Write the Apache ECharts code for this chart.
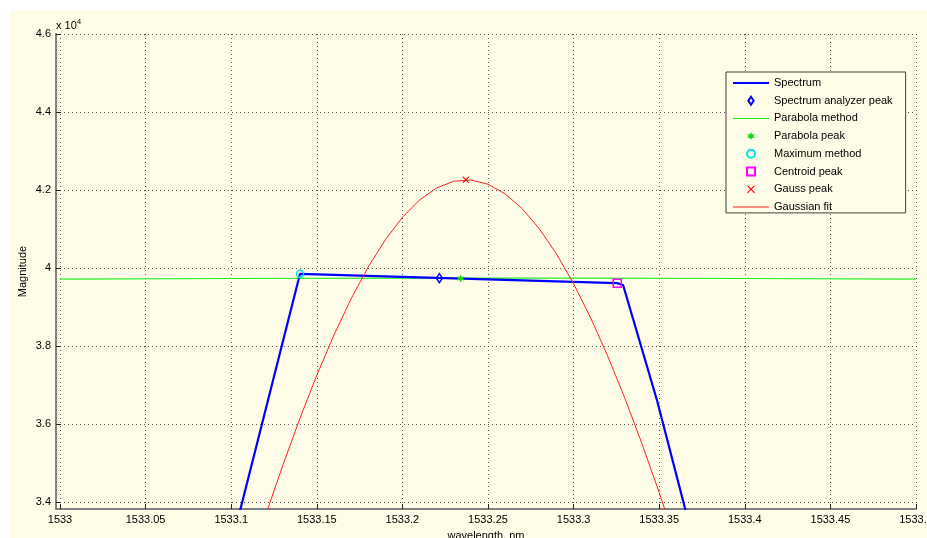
<!DOCTYPE html>
<html>
<head>
<meta charset="utf-8">
<script src="https://cdn.jsdelivr.net/npm/echarts@6/dist/echarts.min.js"></script>
<style>
  html, body { margin: 0; background: #ffffff; }
  #chart { position: absolute; left: 10px; top: 10px; width: 917px; height: 528px; }
</style>
</head>
<body>
<div id="chart"></div>
<script>
// magnitude values are in units of 10^4 (as on the axis)
const spectrumX = [1533.09, 1533.1402, 1533.18, 1533.22, 1533.26, 1533.30, 1533.3255, 1533.3289, 1533.3487, 1533.375]
const spectrumY = [3.116, 3.9854, 3.9803, 3.9751, 3.9700, 3.9648, 3.9615, 3.9568, 3.6615, 3.217]

const parabolaX = [1533, 1533.1, 1533.2, 1533.25, 1533.3, 1533.4, 1533.5]
const parabolaY = [3.9718, 3.9735, 3.9743, 3.9744, 3.9743, 3.9735, 3.9718]

const gaussX = [1533.10, 1533.11, 1533.12, 1533.13, 1533.14, 1533.15, 1533.16, 1533.17, 1533.18, 1533.19,
  1533.20, 1533.21, 1533.22, 1533.23, 1533.24, 1533.25, 1533.26, 1533.27, 1533.28, 1533.29,
  1533.30, 1533.31, 1533.32, 1533.33, 1533.34, 1533.35, 1533.36, 1533.37]
const gaussY = [3.0935, 3.2321, 3.3656, 3.4930, 3.6133, 3.7255, 3.8284, 3.9211, 4.0028, 4.0727,
  4.1302, 4.1746, 4.2055, 4.2227, 4.2259, 4.2151, 4.1905, 4.1523, 4.1007, 4.0365,
  3.9601, 3.8723, 3.7740, 3.6660, 3.5493, 3.4249, 3.2940, 3.1578]

const analyzerPeak = [1533.2216, 3.9744]
const parabolaPeak = [1533.234, 3.9735]
const maximumPoint = [1533.1402, 3.9854]
const centroidPeak = [1533.3255, 3.9615]
const gaussPeak = [1533.2371, 4.2264]

const xTickMin = 1532.99766, xTickMax = 1533.5
const yTickMin = 3.3828, yTickMax = 4.6

const BG = '#fffde8'
const FONT = 'Liberation Sans, Arial, sans-serif'
const zip = (xs, ys) => xs.map((x, i) => [x, ys[i]])
const fmt = v => String(Number(v.toFixed(4)))

const starPath = 'path://M5,0L6.5,3L10,2.5L8,5L10,7.5L6.5,7L5,10L3.5,7L0,7.5L2,5L0,2.5L3.5,3Z'
const crossPath = 'path://M1,0L5,4L9,0L10,1L6,5L10,9L9,10L5,6L1,10L0,9L4,5L0,1Z'
const diamondPath = 'path://M3,0L6,4.5L3,9L0,4.5Z'
const squarePath = 'path://M0,0L10,0L10,10L0,10Z'
const thickLine = 'path://M0,0L36,0L36,2L0,2Z'
const thinLine = 'path://M0,0L36,0L36,1L0,1Z'

const chart = echarts.init(document.getElementById('chart'))

const grid = { color: '#555', type: [1, 3], width: 1 }

chart.setOption({
  backgroundColor: BG,
  animation: false,
  textStyle: { fontFamily: FONT },
  grid: { left: 46, right: 11, top: 24, bottom: 29, outerBoundsMode: 'none', containLabel: false },
  xAxis: {
    type: 'value',
    min: xTickMin, max: xTickMax, splitNumber: 10,
    name: 'wavelength, nm', nameLocation: 'middle', nameGap: 21, nameMoveOverlap: false,
    nameTextStyle: { color: '#000', fontSize: 11, fontFamily: FONT },
    axisLine: { onZero: false, lineStyle: { color: '#808080', width: 2 } },
    axisTick: { inside: true, length: 5, lineStyle: { color: '#222' } },
    axisLabel: { color: '#000', fontSize: 11, margin: 5, showMinLabel: false, showMaxLabel: true, fontFamily: FONT, formatter: fmt },
    splitLine: { show: true, lineStyle: grid },
  },
  yAxis: {
    type: 'value',
    min: yTickMin, max: yTickMax, splitNumber: 6,
    name: 'Magnitude', nameLocation: 'middle', nameGap: 28, nameMoveOverlap: false,
    nameTextStyle: { color: '#000', fontSize: 11, fontFamily: FONT },
    axisLine: { onZero: false, lineStyle: { color: '#808080', width: 2 } },
    axisTick: { inside: true, length: 5, lineStyle: { color: '#222' } },
    axisLabel: { color: '#000', fontSize: 11, margin: 5, showMinLabel: false, fontFamily: FONT, formatter: fmt },
    splitLine: { show: true, lineStyle: grid },
  },
  legend: {
    orient: 'vertical',
    left: 716, top: 62,
    padding: [5, 13, 0, 7],
    itemWidth: 36, itemHeight: 8, itemGap: 5.7,
    backgroundColor: BG,
    borderColor: '#404040', borderWidth: 1,
    textStyle: { color: '#000', fontSize: 11, lineHeight: 12, fontFamily: FONT },
    data: [
      { name: 'Spectrum', icon: thickLine },
      { name: 'Spectrum analyzer peak', icon: diamondPath },
      { name: 'Parabola method', icon: thinLine },
      { name: 'Parabola peak', icon: starPath },
      { name: 'Maximum method', icon: 'circle' },
      { name: 'Centroid peak', icon: squarePath },
      { name: 'Gauss peak', icon: crossPath },
      { name: 'Gaussian fit', icon: thinLine },
    ],
  },
  graphic: [{
    type: 'text', left: 46, top: 8,
    style: {
      text: 'x 10{s|4}', fill: '#000', font: '11px ' + FONT,
      rich: { s: { fontSize: 8, verticalAlign: 'top', padding: [0, 0, 7, 0] } },
    },
  }],
  series: [
    {
      name: 'Spectrum', type: 'line', data: zip(spectrumX, spectrumY), symbol: 'none', symbolKeepAspect: true,
      lineStyle: { color: '#0000ff', width: 2.2 }, itemStyle: { color: '#0000ff' }, z: 3,
    },
    {
      name: 'Spectrum analyzer peak', type: 'scatter', data: [analyzerPeak], symbol: 'diamond', symbolSize: [6, 9], symbolKeepAspect: true,
      itemStyle: { color: 'rgba(0,0,0,0)', borderColor: '#0000ff', borderWidth: 1.5, opacity: 1 }, z: 5,
    },
    {
      name: 'Parabola method', type: 'line', data: zip(parabolaX, parabolaY), symbol: 'none', symbolKeepAspect: true,
      lineStyle: { color: '#22ee22', width: 1.2 }, itemStyle: { color: '#22ee22' }, z: 2,
    },
    {
      name: 'Parabola peak', type: 'scatter', data: [parabolaPeak], symbol: starPath, symbolSize: 8, symbolKeepAspect: true,
      itemStyle: { color: '#11dd11', opacity: 1 }, z: 5,
    },
    {
      name: 'Maximum method', type: 'scatter', data: [maximumPoint], symbol: 'circle', symbolSize: 7, symbolKeepAspect: true,
      itemStyle: { color: 'rgba(0,0,0,0)', borderColor: '#00e5e5', borderWidth: 1.5, opacity: 1 }, z: 5,
    },
    {
      name: 'Centroid peak', type: 'scatter', data: [centroidPeak], symbol: 'rect', symbolSize: 8, symbolKeepAspect: true,
      itemStyle: { color: 'rgba(0,0,0,0)', borderColor: '#ff00ff', borderWidth: 1.5, opacity: 1 }, z: 5,
    },
    {
      name: 'Gauss peak', type: 'scatter', data: [gaussPeak], symbol: crossPath, symbolSize: 7, symbolKeepAspect: true,
      itemStyle: { color: '#ff0000', opacity: 1 }, z: 5,
    },
    {
      name: 'Gaussian fit', type: 'line', data: zip(gaussX, gaussY), symbol: 'none', symbolKeepAspect: true,
      lineStyle: { color: '#ff2020', width: 1 }, itemStyle: { color: '#ff2020' }, z: 4,
    },
  ],
})
</script>
</body>
</html>
